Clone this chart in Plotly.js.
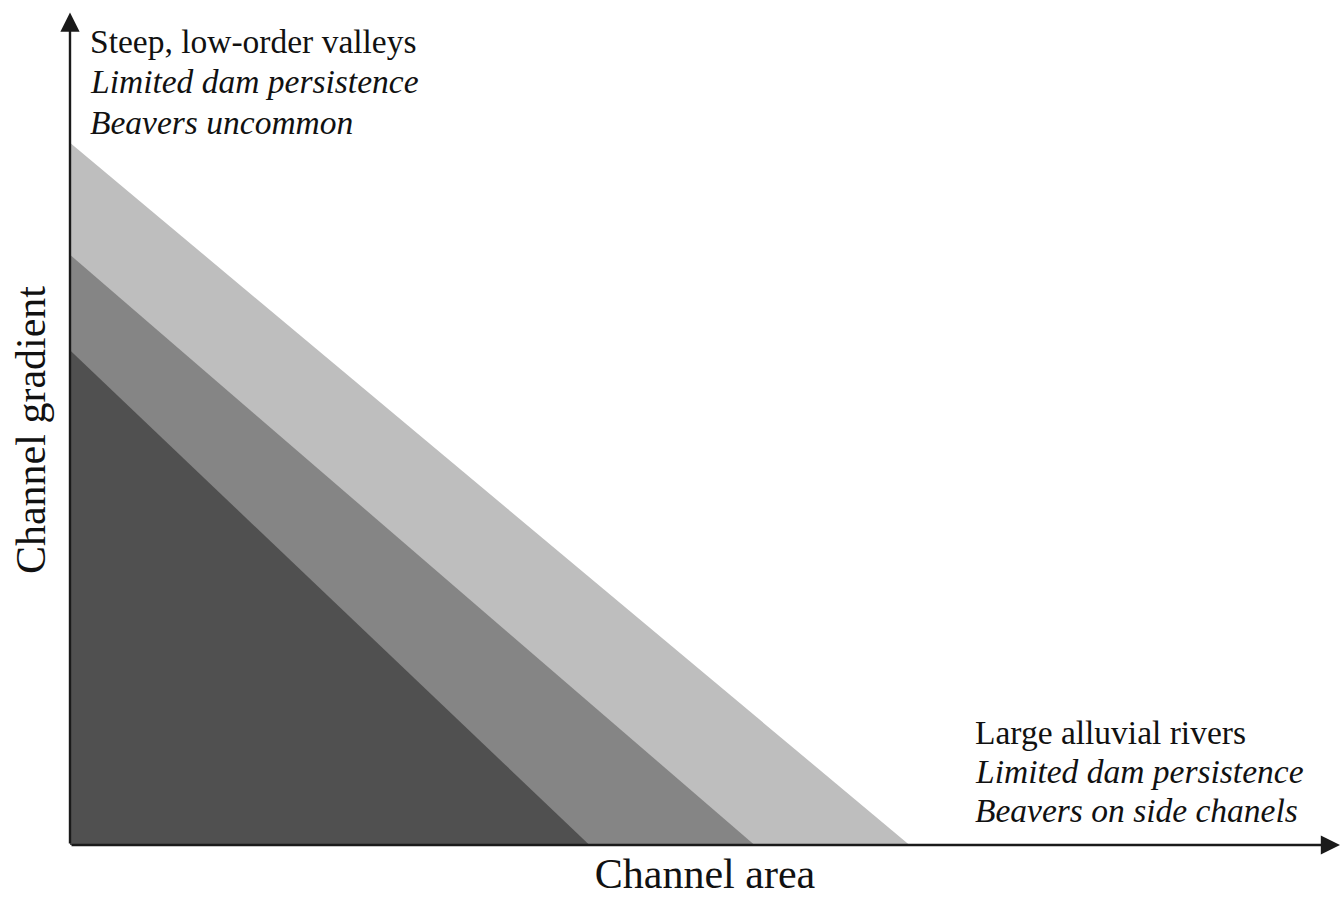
<!DOCTYPE html>
<html>
<head>
<meta charset="utf-8">
<script src="https://cdn.plot.ly/plotly-3.0.1.min.js"></script>
<style>
  html, body { margin: 0; padding: 0; background: #ffffff; }
  #chart { width: 1344px; height: 897px; }
</style>
</head>
<body>
<div id="chart"></div>
<script>
// Zones (drawn back to front): light, mid, dark
const zoneNames = ['Outer zone', 'Middle zone', 'Inner zone'];
const zoneColors = ['#bebebe', '#858585', '#505050'];
// Gradient intercept (y at area = 0) and area intercept (x at gradient = 0), 0-100 scales
const zoneGradientMax = [84.6, 71.1, 59.6];
const zoneAreaMax = [66.1, 53.9, 40.9];

const topLeftLines = ['Steep, low-order valleys', 'Limited dam persistence', 'Beavers uncommon'];
const bottomRightLines = ['Large alluvial rivers', 'Limited dam persistence', 'Beavers on side chanels'];
const lineItalic = [false, true, true];

const traces = zoneNames.map((name, i) => ({
  type: 'scatter',
  mode: 'lines',
  name: name,
  x: [0, 0, zoneAreaMax[i], 0],
  y: [0, zoneGradientMax[i], 0, 0],
  fill: 'toself',
  fillcolor: zoneColors[i],
  line: { width: 0, color: zoneColors[i] },
  hoverinfo: 'skip',
  showlegend: false
}));

const font = 'Liberation Serif, Times New Roman, serif';
const annotations = [];

function addBlock(lines, xPos, yPositions) {
  lines.forEach((t, i) => {
    annotations.push({
      xref: 'x', yref: 'y',
      x: xPos, y: yPositions[i],
      xanchor: 'left', yanchor: 'middle',
      text: lineItalic[i] ? '<i>' + t + '</i>' : t,
      showarrow: false,
      font: { family: font, size: 33.5, color: '#111111' }
    });
  });
}
addBlock(topLeftLines, 1.42, [96.75, 91.95, 87.1]);
addBlock(bottomRightLines, 71.1, [13.6, 8.8, 4.1]);

// Axis arrows
annotations.push({
  xref: 'x', yref: 'y', axref: 'x', ayref: 'y',
  x: 100, y: 0, ax: 0, ay: 0,
  text: '', showarrow: true, arrowhead: 2, arrowsize: 1.6, arrowwidth: 2.4,
  arrowcolor: '#1a1a1a', standoff: 0
});
annotations.push({
  xref: 'x', yref: 'y', axref: 'x', ayref: 'y',
  x: 0, y: 100.3, ax: 0, ay: 0,
  text: '', showarrow: true, arrowhead: 2, arrowsize: 1.6, arrowwidth: 2.4,
  arrowcolor: '#1a1a1a', standoff: 0
});

const layout = {
  width: 1344, height: 897,
  paper_bgcolor: '#ffffff', plot_bgcolor: '#ffffff',
  margin: { l: 70, r: 4, t: 15, b: 52, autoexpand: false },
  showlegend: false,
  xaxis: {
    range: [0, 100], showgrid: false, zeroline: false, showticklabels: false,
    ticks: '', showline: false, fixedrange: true, automargin: false,
    title: { text: 'Channel area', font: { family: font, size: 42, color: '#111111' }, standoff: 16 }
  },
  yaxis: {
    range: [0, 100], showgrid: false, zeroline: false, showticklabels: false,
    ticks: '', showline: false, fixedrange: true, automargin: false,
    title: { text: 'Channel gradient', font: { family: font, size: 42, color: '#111111' }, standoff: 10 }
  },
  annotations: annotations
};

Plotly.newPlot('chart', traces, layout, { displayModeBar: false, staticPlot: true });
</script>
</body>
</html>
